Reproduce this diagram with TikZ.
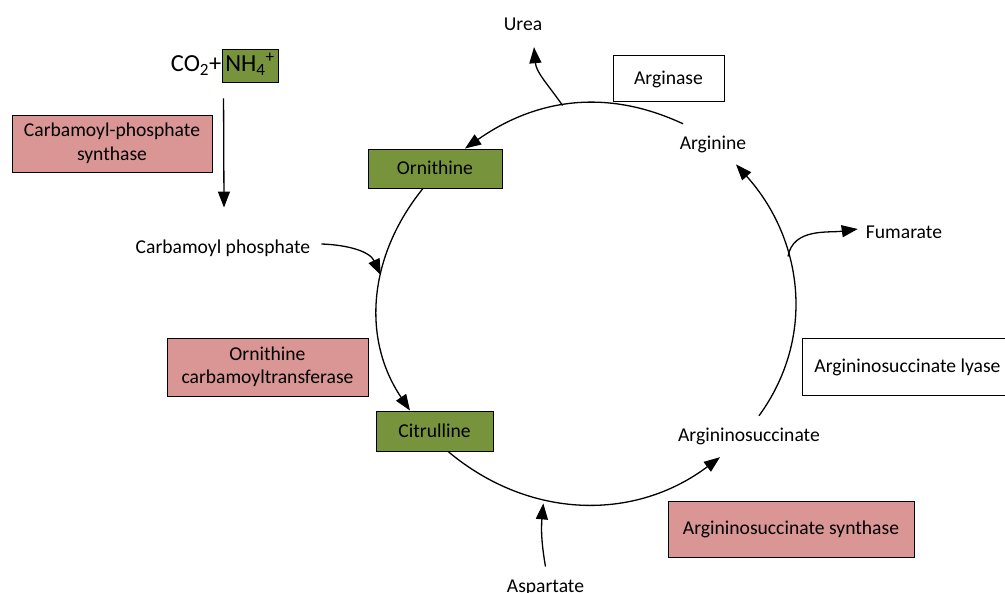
\documentclass[tikz,border=0pt]{standalone}
\usepackage{fontspec}
\setmainfont{Carlito}
\usetikzlibrary{arrows.meta}
\definecolor{olivebox}{RGB}{119,147,60}
\definecolor{rosebox}{RGB}{217,150,148}
\tikzset{
	every node/.style={font=\fontsize{19.6}{23.5}\selectfont},
	txt/.style={inner sep=0pt, text height=12.5pt, text depth=0pt},
	compound/.style={draw, line width=0.9pt, fill=olivebox, txt},
	enzyme/.style={draw, line width=0.9pt, fill=rosebox, align=center, inner sep=0pt},
	enzymeplain/.style={draw, line width=0.9pt, fill=white, txt},
	flow/.style={line width=1.3pt, -{Triangle[length=16pt,width=12pt]}},
}

\begin{document}
\begin{tikzpicture}[x=1pt, y=1pt]
		\useasboundingbox (0,0) rectangle (1005,593);
		% inputs and enzymes
		\node[compound, minimum width=56, minimum height=33, font=\fontsize{24.5}{28}\selectfont] (nh) at (250,527.5) {NH\textsubscript{4}\textsuperscript{+}};
		\node[txt, anchor=east, font=\fontsize{24.5}{28}\selectfont] (co) at (nh.west) {CO\textsubscript{2}+};
		\node[enzyme, minimum width=200, minimum height=57] (cps) at (112,449.5) {Carbamoyl-phosphate\\synthase};
		\node[txt] (cp) at (223,346) {Carbamoyl phosphate};
		\node[enzyme, minimum width=201, minimum height=58] (otc) at (267.5,226) {Ornithine\\carbamoyltransferase};
		\node[enzymeplain, minimum width=111, minimum height=46] (arginase) at (668.5,515) {Arginase};
		\node[enzymeplain, minimum width=211, minimum height=57] (lyase) at (907.5,226.5) {Argininosuccinate lyase};
		\node[enzyme, minimum width=246, minimum height=56] (ass) at (791,64) {Argininosuccinate synthase};
		% cycle members
		\node[compound, minimum width=134, minimum height=39] (orn) at (435,424.5) {Ornithine};
		\node[compound, minimum width=117, minimum height=40] (cit) at (434.5,162) {Citrulline};
		\node[txt] (asuc) at (749,158) {Argininosuccinate};
		\node[txt] (arg) at (713,450) {Arginine};
		\node[txt] (urea) at (523,569) {Urea};
		\node[txt] (fum) at (904,361) {Fumarate};
		\node[txt] (asp) at (545.5,7) {Aspartate};
		% the cycle
		\draw[flow] ([xshift=-30pt,yshift=12.75pt]arg.north) to[out=155, in=35] coordinate[pos=0.54] (ureaout) ([xshift=30pt]orn.north);
		\draw[flow] ([xshift=-12pt]orn.south) to[out=231, in=124] coordinate[pos=0.4] (cpin) ([xshift=-24.5pt]cit.north);
		\draw[flow] ([xshift=13.5pt]cit.south) to[out=-40, in=217] coordinate[pos=0.36] (aspin) ([xshift=-29pt,yshift=-15.75pt]asuc.south);
		\draw[flow] ([xshift=10pt,yshift=12.75pt]asuc.north) to[out=54, in=312] coordinate[pos=0.62] (fumout) ([xshift=23pt,yshift=-15pt]arg.south);
		% side branches
		\draw[flow] ([xshift=2pt,yshift=-16pt]nh.south west) -- ([xshift=1pt,yshift=33pt]cp.north);
		\draw[flow] ([xshift=11pt,yshift=3pt]cp.east) to[out=-2, in=115] (cpin);
		\draw[flow] (ureaout) to[out=125, in=275] ([xshift=11pt,yshift=-16.75pt]urea.south);
		\draw[flow] (fumout) to[out=80, in=188] ([xshift=-8pt,yshift=3pt]fum.west);
		\draw[flow] ([yshift=13pt]asp.north) to[out=100, in=265] ([yshift=-4pt]aspin);
	\end{tikzpicture}
\end{document}
